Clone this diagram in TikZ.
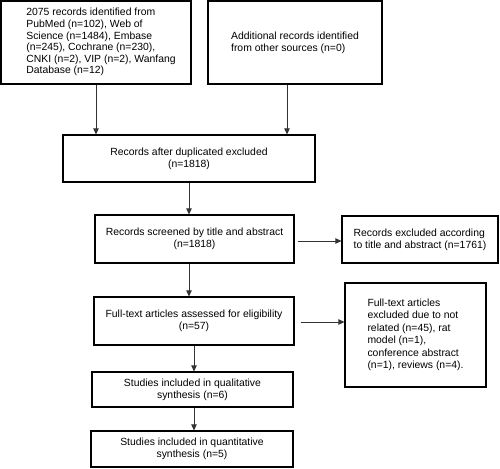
\documentclass[tikz,border=0pt]{standalone}
\usepackage{fontspec}
\setmainfont{Liberation Sans}
\usetikzlibrary{arrows.meta}
\begin{document}
\begin{tikzpicture}[x=1pt,y=-1pt,
  box/.style={draw=black,line width=1.2pt,inner sep=0pt,font=\fontsize{10.4}{11.8}\selectfont},
  arr/.style={draw=black!80,line width=0.8pt,-{Triangle[length=6pt,width=5.5pt]}}]
\useasboundingbox (0,0) rectangle (500,468);
\node[box,minimum width=190,minimum height=83] (b1) at (96,42.5)
  {\renewcommand{\arraystretch}{0.98}\begin{tabular}{@{\hspace{10pt}}l@{}}2075 records identified from\\PubMed (n=102), Web of\\Science (n=1484), Embase\\(n=245), Cochrane (n=230),\\CNKI (n=2), VIP (n=2), Wanfang\\Database (n=12)\end{tabular}};
\node[box,minimum width=174,minimum height=83,align=left] (b2) at (295,42.5)
  {Additional records identified\\from other sources (n=0)};
\node[box,minimum width=252,minimum height=47,align=center] (b3) at (189,158.5)
  {Records after duplicated excluded\\(n=1818)};
\node[box,minimum width=199,minimum height=48,align=center] (b4) at (194.5,239)
  {Records screened by title and abstract\\(n=1818)};
\node[box,minimum width=156,minimum height=47,align=left] (ea) at (420,239.5)
  {Records excluded according\\to title and abstract (n=1761)};
\node[box,minimum width=200,minimum height=48,align=center] (b5) at (194,321)
  {Full-text articles assessed for eligibility\\(n=57)};
\node[box,minimum width=141,minimum height=104,align=left,font=\fontsize{10.4}{12.5}\selectfont] (eb) at (415.5,335)
  {Full-text articles\\excluded due to not\\related (n=45), rat\\model (n=1),\\conference abstract\\(n=1), reviews (n=4).};
\node[box,minimum width=201,minimum height=35,align=center] (b6) at (192.5,389.5)
  {Studies included in qualitative\\synthesis (n=6)};
\node[box,minimum width=202,minimum height=36,align=center] (b7) at (192,449)
  {Studies included in quantitative\\synthesis (n=5)};
\draw[arr] (b1.south) -- (b1.south |- b3.north);
\draw[arr] ([xshift=-8pt]b2.south) -- ([xshift=-8pt]b2.south |- b3.north);
\draw[arr] (b3.south) -- (b3.south |- b4.north);
\draw[arr] ([xshift=-5.5pt]b4.south) -- ([xshift=-5.5pt]b4.south |- b5.north);
\draw[arr] (b5.south) -- (b5.south |- b6.north);
\draw[arr] ([xshift=1.5pt]b6.south) -- ([xshift=1.5pt]b6.south |- b7.north);
\draw[arr] ([xshift=3pt,yshift=-2pt]b4.east) -- ([yshift=-2pt]b4.east -| ea.west);
\draw[arr] ([xshift=6pt,yshift=-1pt]b5.east) -- ([yshift=-1pt]b5.east -| eb.west);
\end{tikzpicture}
\end{document}
